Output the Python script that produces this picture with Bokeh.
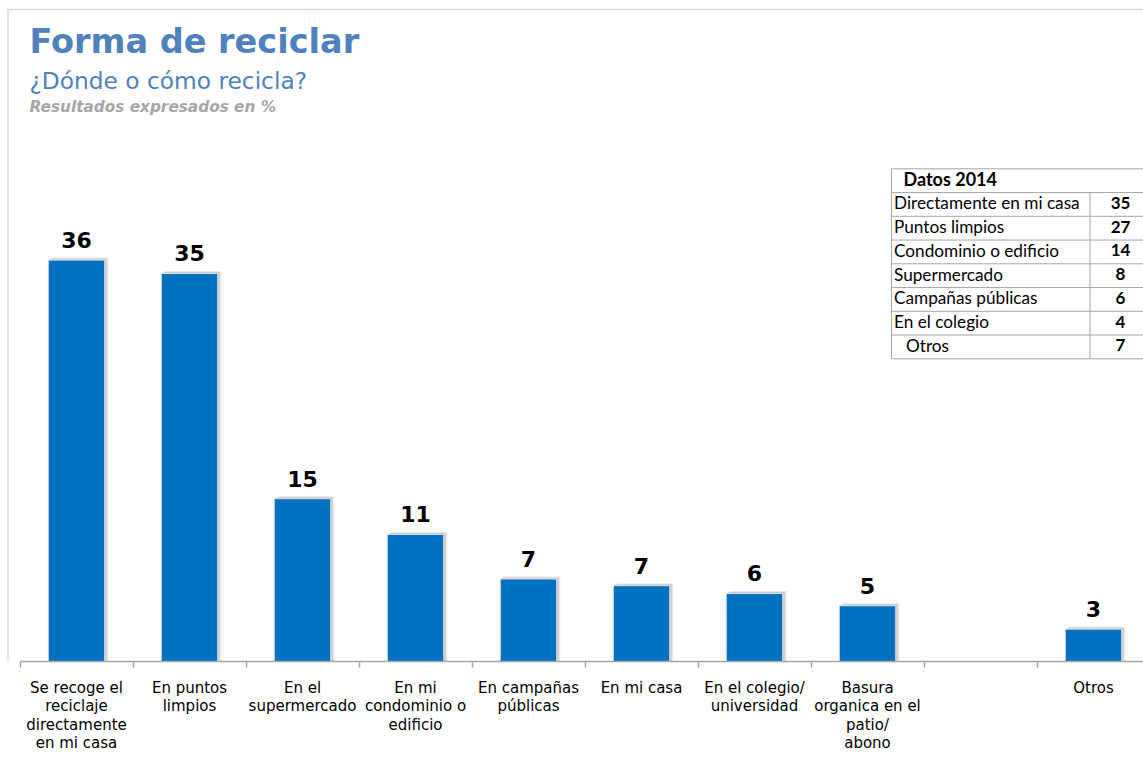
import math
from bokeh.plotting import figure
from bokeh.models import FixedTicker, Range1d
from bokeh.core.properties import value
from bokeh.embed import file_html
from bokeh.resources import INLINE

# ---------------- data ----------------
categories = [
    "Se recoge el\nreciclaje\ndirectamente\nen mi casa",
    "En puntos\nlimpios",
    "En el\nsupermercado",
    "En mi\ncondominio o\nedificio",
    "En campañas\npúblicas",
    "En mi casa",
    "En el colegio/\nuniversidad",
    "Basura\norganica en el\npatio/\nabono",
    "",
    "Otros",
]
values = [36.0, 34.8, 14.6, 11.4, 7.4, 6.8, 6.1, 5.0, None, 2.9]

title = "Forma de reciclar"
subtitle = "¿Dónde o cómo recicla?"
note = "Resultados expresados en %"

table_header = "Datos 2014"
table_labels = ["Directamente en mi casa", "Puntos limpios", "Condominio o edificio",
                "Supermercado", "Campañas públicas", "En el colegio", "Otros"]
table_values = [35, 27, 14, 8, 6, 4, 7]

# ---------------- layout helpers (pixel -> data) ----------------
SLOT = 113.0      # px per category slot
C0 = 76.0         # px of first slot centre
BASE = 661.0      # px of baseline
K = 11.15         # px per unit
FW = 1143


def px_x(px):
    return (px - C0) / SLOT


def py_y(py):
    return (BASE - py) / K


p = figure(frame_width=FW, frame_height=int(BASE), output_backend="svg", toolbar_location=None,
           x_range=Range1d(px_x(0), px_x(FW)), y_range=Range1d(0, py_y(0)),
           y_axis_location=None, title=None,
           min_border_left=0, min_border_right=0, min_border_top=0,
           min_border_bottom=0)
p.outline_line_color = None
p.xgrid.grid_line_color = None
p.ygrid.grid_line_color = None
p.background_fill_color = "white"
p.border_fill_color = "white"

# outer border (top / left)
p.segment(x0=[px_x(7), px_x(7.5)], y0=[py_y(9), py_y(9)],
          x1=[px_x(1200), px_x(7.5)], y1=[py_y(9), py_y(700)],
          line_color="#d9d9d9", line_width=1.5)

# bars
xs = [i for i, v in enumerate(values) if v is not None]
vs = [v for v in values if v is not None]
labels = [str(int(round(v))) for v in vs]

p.vbar(x=[x + 3.5 / SLOT for x in xs], top=[v + 2.5 / K for v in vs], width=0.5,
       bottom=0, fill_color="#7f7f7f", fill_alpha=0.18, line_color=None)
p.vbar(x=[x + 2 / SLOT for x in xs], top=[v + 1.5 / K for v in vs], width=0.5,
       bottom=0, fill_color="#7f7f7f", fill_alpha=0.28, line_color=None)
p.vbar(x=xs, top=vs, width=0.5, bottom=0, fill_color="#0070C0",
       line_color="#e4e4e4", line_width=1)

p.text(x=xs, y=vs, text=labels, text_font=value("DejaVu Sans"),
       text_font_style="bold", text_font_size="22px", text_color="black",
       text_align="center", text_baseline="alphabetic", y_offset=-20)

# titles
p.text(x=[px_x(29)], y=[py_y(41)], text=[title], text_font=value("DejaVu Sans"),
       text_font_style="bold", text_font_size="33.5px", text_color="#4F81BD",
       text_align="left", text_baseline="alphabetic")
p.text(x=[px_x(29)], y=[py_y(79.5)], text=[subtitle], text_font=value("DejaVu Sans"),
       text_font_size="23.3px", text_color="#4F81BD",
       text_align="left", text_baseline="alphabetic")
p.text(x=[px_x(29)], y=[py_y(106)], text=[note], text_font=value("DejaVu Sans"),
       text_font_style="bold italic", text_font_size="15.3px", text_color="#A6A6A6",
       text_align="left", text_baseline="alphabetic")

# table
T_LEFT, T_DIV, T_RIGHT = 891.0, 1089.5, 1200.0
T_TOP, ROW_H, HEAD_H = 168.3, 23.75, 23.75
edges = [T_TOP + HEAD_H + ROW_H * i for i in range(len(table_labels) + 1)]
edges = [T_TOP] + edges
p.segment(x0=[px_x(T_LEFT)] * len(edges), y0=[py_y(e) for e in edges],
          x1=[px_x(T_RIGHT)] * len(edges), y1=[py_y(e) for e in edges],
          line_color="#a6a6a6", line_width=1)
p.segment(x0=[px_x(T_LEFT), px_x(T_DIV)], y0=[py_y(T_TOP), py_y(edges[1])],
          x1=[px_x(T_LEFT), px_x(T_DIV)], y1=[py_y(edges[-1]), py_y(edges[-1])],
          line_color="#a6a6a6", line_width=1)
centers = [(edges[i] + edges[i + 1]) / 2 - 1.5 for i in range(1, len(edges) - 1)]
indent = [0] * (len(table_labels) - 1) + [12]
p.text(x=[px_x(903)], y=[py_y((edges[0] + edges[1]) / 2 - 1.5)], text=[table_header],
       text_font=value("Lato"), text_font_style="bold", text_font_size="18px",
       text_color="black", text_align="left", text_baseline="middle")
p.text(x=[px_x(893.5 + d) for d in indent], y=[py_y(c) for c in centers], text=table_labels,
       text_font=value("Lato"), text_font_size="17.2px", text_color="black",
       text_align="left", text_baseline="middle")
p.text(x=[px_x(1120)] * len(table_values), y=[py_y(c) for c in centers],
       text=[str(v) for v in table_values],
       text_font=value("Lato"), text_font_style="bold", text_font_size="17px",
       text_color="black", text_align="center", text_baseline="middle")

# x axis
ax = p.xaxis[0]
ax.ticker = FixedTicker(ticks=list(range(len(categories))),
                        minor_ticks=[i - 0.5 for i in range(len(categories) + 1)])
ax.major_label_overrides = {i: c for i, c in enumerate(categories)}
ax.bounds = (-0.5, len(categories))
ax.axis_line_color = "#a6a6a6"
ax.axis_line_width = 1.5
ax.major_tick_line_color = None
ax.major_tick_in = 0
ax.major_tick_out = 0
ax.minor_tick_line_color = "#a6a6a6"
ax.minor_tick_in = 0
ax.minor_tick_out = 6
ax.minor_tick_line_width = 1.5
ax.major_label_standoff = 11
ax.major_label_text_font = "DejaVu Sans"
ax.major_label_text_font_size = "15px"
ax.major_label_text_line_height = 1.03
ax.major_label_text_color = "black"
ax.major_label_orientation = "horizontal"

open("out.html", "w").write(file_html(p, INLINE))
